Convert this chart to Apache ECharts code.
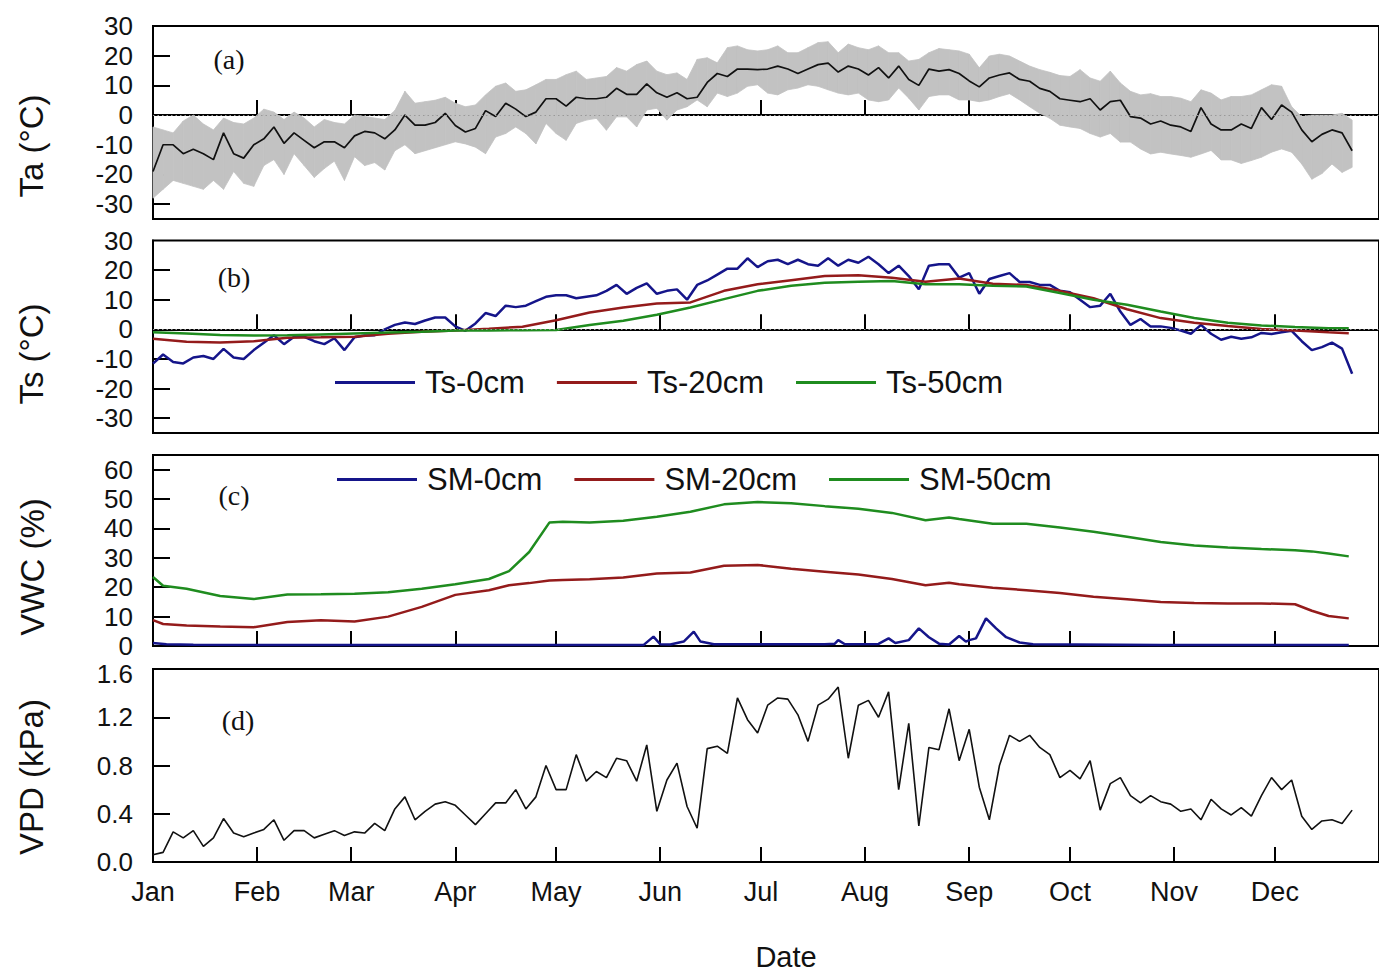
<!DOCTYPE html>
<html>
<head>
<meta charset="utf-8">
<title>Ta, Ts, VWC and VPD</title>
<script src="https://cdn.jsdelivr.net/npm/echarts@6.0.0/dist/echarts.min.js"></script>
<style>
  html, body { margin: 0; padding: 0; background: #fff; }
  #chart { width: 1379px; height: 972px; }
</style>
</head>
<body>
<div id="chart"></div>
<script>
// day of year (0 = Jan 1), one reading every 3 days for the noisy series
const days3 = [
  0, 3, 6, 9, 12, 15, 18, 21, 24, 27, 30, 33, 36, 39, 42, 45, 48, 51, 54, 57, 60, 63, 66, 69, 72, 75, 78, 81, 84, 87, 90,
  93, 96, 99, 102, 105, 108, 111, 114, 117, 120, 123, 126, 129, 132, 135, 138, 141, 144, 147, 150, 153, 156, 159, 162, 165, 168, 171, 174, 177, 180, 183, 186, 189, 192, 195, 198, 201, 204, 207, 210, 213, 216, 219,
  222, 225, 228, 231, 234, 237, 240, 243, 246, 249, 252, 255, 258, 261, 264, 267, 270, 273, 276, 279, 282, 285, 288, 291, 294, 297, 300, 303, 306, 309, 312, 315, 318, 321, 324, 327, 330, 333, 336, 339, 342, 345, 348, 351, 354, 357
]

// (a) air temperature, daily mean / max / min
const taMean = [
  -19, -10, -10, -13, -11.5, -13, -15, -6, -13, -14.5, -10, -8, -4, -9.5, -6, -8.5, -11, -9, -9, -11, -7, -5.5, -6, -8, -5, 0, -3.4, -3.4, -2.5, 0.6, -3.5,
  -5.7, -4.5, 1.5, -0.5, 4, 2, -0.5, 1, 5.5, 5.5, 3, 6, 5.5, 5.5, 6, 9, 7, 7, 10.5, 7.5, 6, 7.5, 5.5, 6, 11, 14, 13, 15.5, 15.5, 15.3, 15.5, 16.5, 15.5, 14, 15.5, 17, 17.5, 14.5, 16.5, 15.5, 13.5, 16, 12.5,
  16.5, 12, 10, 15.5, 14.8, 15.3, 14, 11.5, 9.5, 12.5, 13.5, 14.2, 12, 11.4, 9, 8, 5.5, 5, 4.5, 5.5, 1.7, 4.5, 5, -0.5, -1, -3, -2, -3.4, -4, -5.5, 2.5, -3, -5, -5, -3, -4.5, 2.5, -1.5, 3.4, 1, -5, -9, -6.5, -5, -6, -12
]
const taMax = [
  -4, -5, -6, -2, 0, -3, -5, -1, -2.5, -3, -1, 2, 1, -1.5, 1, -1, -4, -1.5, -2.5, -3, 0, -0.5, -1, -1.5, 1.5, 8, 4, 4.5, 5, 6, 4,
  2.8, 3.4, 6.8, 9.7, 10.8, 8, 8.5, 10.2, 12, 12, 13.6, 14.8, 12, 12.5, 13, 16, 14.8, 17, 18.2, 14.8, 13.6, 14.2, 12, 18.75, 19.3, 17.6, 22.7, 23.3, 22, 21.6, 22, 23.3, 21, 21, 22.7, 24.4, 24.7, 21, 23.9, 22.7, 22, 23.3, 21,
  21, 18.2, 18.75, 21, 22.4, 22, 21.6, 20.5, 15.9, 19.9, 20.5, 19.9, 18.2, 16.5, 15.3, 14.4, 13.3, 13, 15.3, 12.5, 11.4, 14.8, 10.8, 8, 6.8, 7.2, 6.25, 6.25, 5.7, 4.5, 8.5, 7.4, 5.1, 6.25, 6.25, 6.8, 8.5, 10.2, 9.7, 2.8, -0.6, 0, 0, 0, 0.6, -1.7
]
const taMin = [
  -28, -25, -22, -23, -24, -25, -22, -25, -19, -23, -24, -17, -15, -20, -13, -17, -21, -18, -15.5, -22, -14, -17, -16, -18.5, -12, -10, -13, -12, -11, -10, -9,
  -9.7, -10.8, -13, -7.4, -6.2, -4, -6.2, -9.7, -2.8, -6.2, -8.5, -2.8, -1.7, -1.1, -5.1, -0.6, -0.6, -4, 1.7, 2.3, -1.7, 1.7, 2.8, 5.1, 2.8, 7.4, 6.25, 7.4, 9.7, 10.2, 7.4, 6.8, 8.5, 9.1, 10.2, 9.7, 8.5, 7.4, 6.8, 7.4, 5.1, 4.5, 5.1,
  9.1, 5.7, 1.7, 6.25, 6.8, 6.8, 5.1, 5.1, 4.5, 5.1, 6.25, 7.2, 5.1, 2.8, 0.6, -1.1, -3.4, -4, -4.5, -6.2, -7.4, -6.2, -9.1, -9.1, -11.4, -13.1, -12.5, -13.1, -13.6, -14.2, -13.1, -11.9, -15.1, -15.1, -16.3, -15.3, -14.2, -12.5, -11.4, -12.5, -16.5, -21.6, -19.7, -16.5, -19.3, -17.6
]

// (b) soil temperature
const ts0 = [
  -11.6, -8.5, -11, -11.5, -9.5, -9, -10, -6.6, -9.5, -10, -7, -4.5, -2, -5, -2.5, -2.5, -4, -5, -3, -7, -2.7, -2.1, -2, 0, 1.5, 2.3, 1.8, 3, 4, 4, 1,
  -0.5, 2, 5.5, 4.5, 8, 7.5, 8, 9.5, 11, 11.5, 11.5, 10.5, 11, 11.5, 13, 15, 12, 14, 15.5, 12, 13, 13.5, 10, 15, 16.5, 18.5, 20.5, 20.5, 24, 21, 23, 23.5, 22, 23.5, 22, 21.5, 24, 21.5, 23.5, 22.5, 24.5, 22, 19,
  21.5, 18, 13.5, 21.5, 22, 22, 17.5, 19, 12, 17, 18, 19, 16, 16, 15, 15, 13, 12.5, 10, 7.5, 8, 12, 6, 1.5, 3.5, 1, 1, 0.5, -0.4, -1.5, 1.5, -1.5, -3.5, -2.5, -3.2, -2.7, -1.2, -1.6, -1, -0.5, -4, -7, -6, -4.5, -6.5, -15
]
const days10 = [0, 10, 20, 30, 40, 50, 60, 70, 80, 90, 100, 110, 120, 130, 140, 150, 160, 170, 180, 190, 200, 210, 220, 230, 240, 250, 260, 270, 280, 290, 300, 310, 320, 330, 340, 350, 356]
const ts20 = [-3.2, -4.2, -4.4, -4, -2.8, -2.7, -2.5, -1.5, -0.8, -0.4, 0.2, 0.9, 3.1, 5.7, 7.4, 8.7, 9.1, 13, 15.2, 16.6, 18, 18.3, 17.4, 16.1, 17.2, 15.4, 15, 13, 10.5, 6.8, 3.8, 2.2, 1.1, 0.1, -0.4, -1, -1.3]
const ts50 = [-1, -1.4, -1.9, -2.1, -2, -1.7, -1.4, -1.1, -0.8, -0.4, -0.4, -0.3, -0.2, 1.5, 2.9, 4.9, 7.4, 10.2, 13, 14.7, 15.7, 16.1, 16.3, 15.2, 15.2, 14.7, 14.5, 12.3, 10, 8.3, 6, 3.8, 2.2, 1.3, 0.8, 0.4, 0.4]

// (c) soil moisture
const smDays = [0, 3, 10, 20, 30, 40, 50, 60, 70, 80, 90, 100, 106, 112, 118, 122, 130, 140, 150, 160, 170, 180, 190, 200, 210, 220, 230, 237, 240, 250, 260, 270, 280, 290, 300, 310, 320, 330, 340, 345, 350, 356]
const sm20 = [8.8, 7.5, 7, 6.6, 6.4, 8.2, 8.8, 8.3, 10, 13.3, 17.4, 19, 20.7, 21.4, 22.3, 22.5, 22.7, 23.3, 24.7, 25, 27.3, 27.6, 26.3, 25.3, 24.3, 22.8, 20.7, 21.5, 21, 19.8, 19, 18, 16.8, 15.9, 15, 14.6, 14.5, 14.5, 14.2, 12, 10.2, 9.4]
const sm50 = [23.5, 20.5, 19.5, 17, 16, 17.5, 17.6, 17.8, 18.3, 19.5, 21, 22.8, 25.5, 32, 42, 42.3, 42, 42.6, 44, 45.7, 48.2, 49, 48.6, 47.6, 46.7, 45.3, 42.8, 43.7, 43.2, 41.6, 41.6, 40.3, 38.9, 37.2, 35.4, 34.2, 33.5, 33, 32.6, 32.2, 31.5, 30.5]
const sm0Days = [0, 4, 12, 60, 120, 146, 149, 151, 154, 158, 161, 163, 167, 200, 203, 204, 206, 216, 219, 221, 225, 228, 231, 234, 237, 240, 242, 243, 245, 248, 251, 254, 258, 262, 300, 356]
const sm0 = [1, 0.6, 0.4, 0.3, 0.3, 0.3, 3.2, 0.6, 0.5, 1.5, 4.9, 1.5, 0.6, 0.6, 0.8, 2, 0.6, 0.7, 2.6, 1, 2, 6, 3, 0.8, 0.5, 3.4, 1.5, 2, 2.6, 9.4, 6, 3, 1.2, 0.6, 0.3, 0.3]

// (d) vapour pressure deficit
const vpd = [
  0.06, 0.08, 0.25, 0.2, 0.26, 0.13, 0.2, 0.36, 0.24, 0.21, 0.24, 0.27, 0.35, 0.18, 0.26, 0.26, 0.2, 0.23, 0.26, 0.22, 0.25, 0.24, 0.32, 0.26, 0.44, 0.54, 0.35, 0.42, 0.48, 0.5, 0.47,
  0.39, 0.31, 0.4, 0.49, 0.49, 0.6, 0.44, 0.54, 0.8, 0.6, 0.6, 0.89, 0.67, 0.75, 0.7, 0.86, 0.84, 0.67, 0.97, 0.42, 0.68, 0.82, 0.46, 0.28, 0.94, 0.96, 0.9, 1.36, 1.18, 1.07, 1.3, 1.36, 1.35, 1.22, 1.0, 1.3, 1.35, 1.45, 0.86, 1.3, 1.34, 1.2, 1.41,
  0.6, 1.15, 0.3, 0.95, 0.93, 1.27, 0.84, 1.1, 0.62, 0.35, 0.8, 1.05, 1.0, 1.05, 0.95, 0.89, 0.7, 0.76, 0.69, 0.84, 0.43, 0.65, 0.7, 0.55, 0.49, 0.55, 0.5, 0.48, 0.42, 0.44, 0.35, 0.52, 0.44, 0.39, 0.45, 0.38, 0.55, 0.7, 0.6, 0.68, 0.38, 0.27, 0.34, 0.35, 0.32, 0.43
]

const monthStarts = [0, 31, 59, 90, 120, 151, 181, 212, 243, 273, 304, 334]
const monthNames = ['Jan', 'Feb', 'Mar', 'Apr', 'May', 'Jun', 'Jul', 'Aug', 'Sep', 'Oct', 'Nov', 'Dec']
const tempLabels = [-30, -20, -10, 0, 10, 20, 30]
const vwcLabels = [0, 10, 20, 30, 40, 50, 60]
const vpdLabels = [0, 0.4, 0.8, 1.2, 1.6]

const BLUE = '#15158a'
const RED = '#941b1b'
const GREEN = '#1f8c1f'
const BAND = '#c2c2c2'
const SANS = '"Liberation Sans", Arial, sans-serif'
const SERIF = '"Liberation Serif", "Times New Roman", serif'

const pairs = (xs, ys) => xs.map((x, i) => [x, ys[i]])

const tops = [26, 240.5, 455, 669]
const heights = [193, 192.5, 191, 193]

const grids = tops.map((top, i) => ({
  left: 153,
  width: 1241,
  top: top,
  height: heights[i],
  show: true,
  borderColor: '#000',
  borderWidth: 2
}))

const xAxes = tops.map((t, i) => ({
  type: 'value',
  gridIndex: i,
  min: 0,
  max: 365,
  axisLine: { show: true, lineStyle: { color: '#000', width: 2 } },
  axisTick: {
    show: true,
    inside: true,
    length: 15,
    lineStyle: { color: '#000', width: 2 },
    customValues: monthStarts.slice(1)
  },
  axisLabel: {
    show: i === 3,
    customValues: monthStarts,
    formatter: v => monthNames[monthStarts.indexOf(v)],
    fontSize: 27,
    fontFamily: SANS,
    color: '#111',
    margin: 16
  },
  splitLine: { show: false }
}))

const tickLabelStyle = { fontSize: 26, fontFamily: SANS, color: '#111' }

function yAxis (i, min, max, labels, labelExtra) {
  return {
    type: 'value',
    gridIndex: i,
    min: min,
    max: max,
    axisLine: { show: true, lineStyle: { color: '#000', width: 2 } },
    axisTick: {
      show: true,
      inside: true,
      length: 17,
      lineStyle: { color: '#000', width: 2 },
      customValues: labels.filter(v => v > min && v < max)
    },
    axisLabel: Object.assign({
      customValues: labels,
      margin: 20,
      showMinLabel: true,
      showMaxLabel: true
    }, tickLabelStyle, labelExtra || {}),
    splitLine: { show: false }
  }
}

// the "0" of (c) and the "1.6" of (d) sit close together: tighter line boxes,
// and the "1.6" nudged down a little
const vwcLabel = { lineHeight: 20 }
const vpdLabel = {
  lineHeight: 20,
  formatter: v => (v === 1.6 ? '{hi|1.6}' : v.toFixed(1)),
  rich: { hi: Object.assign({ padding: [10, 0, 0, 0], lineHeight: 20 }, tickLabelStyle) }
}

const zeroLine = {
  silent: true,
  symbol: ['none', 'none'],
  label: { show: false },
  lineStyle: { type: [1.5, 3], color: '#999', width: 1.2 },
  data: [{ yAxis: 0 }]
}

function line (name, grid, data, color, width, extra) {
  return Object.assign({
    name: name,
    type: 'line',
    xAxisIndex: grid,
    yAxisIndex: grid,
    data: data,
    symbol: 'none',
    color: color,
    itemStyle: { color: color },
    lineStyle: { color: color, width: width }
  }, extra || {})
}

// min-max envelope of Ta, one filled quad between two neighbouring readings
function renderBand (params, api) {
  const i = params.dataIndex
  if (i >= days3.length - 1) return
  const p1 = api.coord([days3[i], taMax[i]])
  const p2 = api.coord([days3[i + 1], taMax[i + 1]])
  const p3 = api.coord([days3[i + 1], taMin[i + 1]])
  const p4 = api.coord([days3[i], taMin[i]])
  return {
    type: 'polygon',
    shape: { points: [p1, p2, p3, p4] },
    style: { fill: BAND, stroke: BAND, lineWidth: 0.8 }
  }
}

function vText (text, x, y) {
  return {
    type: 'text', x: x, y: y, rotation: Math.PI / 2,
    style: { text: text, font: '33px ' + SANS, fill: '#111', align: 'center', verticalAlign: 'middle', textAlign: 'center', textVerticalAlign: 'middle' }
  }
}

function panelText (text, x, y) {
  return {
    type: 'text', x: x, y: y,
    style: { text: text, font: '28px ' + SERIF, fill: '#111', align: 'center', verticalAlign: 'middle', textAlign: 'center', textVerticalAlign: 'middle' }
  }
}

const legendBase = {
  icon: 'rect',
  itemWidth: 80,
  itemHeight: 3,
  itemGap: 32,
  selectedMode: false,
  textStyle: { fontSize: 31, fontFamily: SANS, color: '#111', padding: [0, 0, 0, 5] }
}

const chart = echarts.init(document.getElementById('chart'), null, { renderer: 'svg' })
chart.setOption({
  animation: false,
  backgroundColor: '#fff',
  grid: grids,
  xAxis: xAxes,
  yAxis: [
    yAxis(0, -35, 30, tempLabels),
    yAxis(1, -35, 30, tempLabels),
    yAxis(2, 0, 65, vwcLabels, vwcLabel),
    yAxis(3, 0, 1.6, vpdLabels, vpdLabel)
  ],
  legend: [
    Object.assign({ data: ['Ts-0cm', 'Ts-20cm', 'Ts-50cm'], left: 330, top: 362 }, legendBase),
    Object.assign({ data: ['SM-0cm', 'SM-20cm', 'SM-50cm'], left: 332, top: 459 }, legendBase)
  ],
  graphic: [
    vText('Ta (°C)', 31, 146),
    vText('Ts (°C)', 31, 354),
    vText('VWC (%)', 32, 567),
    vText('VPD (kPa)', 31, 777),
    panelText('(a)', 229, 59),
    panelText('(b)', 234, 277),
    panelText('(c)', 234, 495),
    panelText('(d)', 238, 720),
    {
      type: 'text', x: 786, y: 957,
      style: { text: 'Date', font: '29px ' + SANS, fill: '#111', align: 'center', verticalAlign: 'middle', textAlign: 'center', textVerticalAlign: 'middle' }
    }
  ],
  series: [
    {
      name: 'Ta range',
      type: 'custom',
      xAxisIndex: 0,
      yAxisIndex: 0,
      silent: true,
      data: days3.map((d, i) => [d, taMin[i], taMax[i]]),
      encode: { x: 0, y: [1, 2] },
      renderItem: renderBand
    },
    line('Ta', 0, pairs(days3, taMean), '#111', 1.7, { markLine: zeroLine }),

    line('Ts-0cm', 1, pairs(days3, ts0), BLUE, 2.5, { markLine: zeroLine }),
    line('Ts-20cm', 1, pairs(days10, ts20), RED, 2.5),
    line('Ts-50cm', 1, pairs(days10, ts50), GREEN, 2.5),

    line('SM-0cm', 2, pairs(sm0Days, sm0), BLUE, 2.5),
    line('SM-20cm', 2, pairs(smDays, sm20), RED, 2.5),
    line('SM-50cm', 2, pairs(smDays, sm50), GREEN, 2.5),

    line('VPD', 3, pairs(days3, vpd), '#111', 1.6)
  ]
})
</script>
</body>
</html>
